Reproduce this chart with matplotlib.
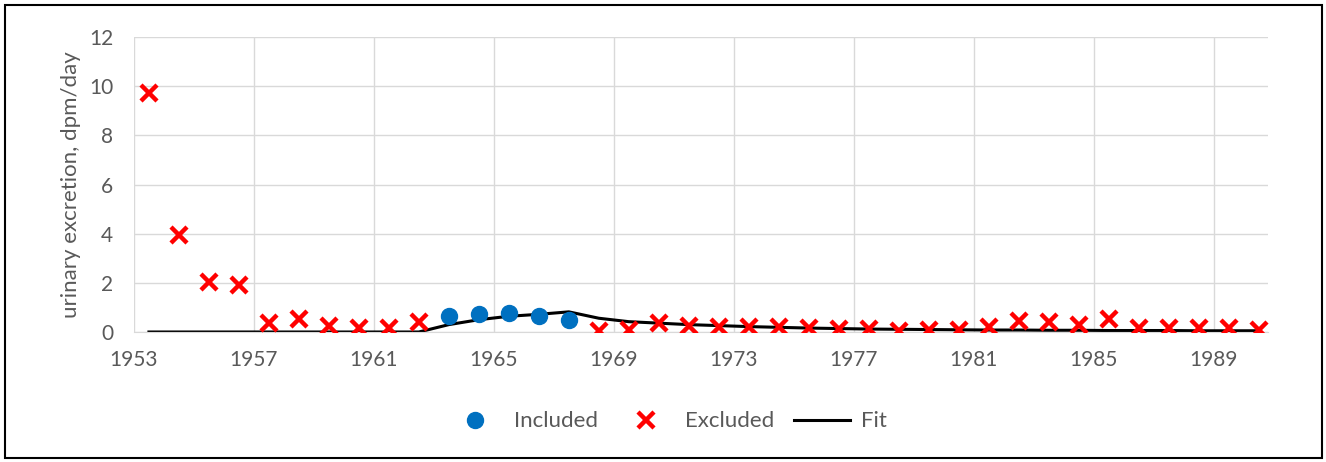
import matplotlib.pyplot as plt
from matplotlib.patches import Rectangle
import numpy as np

# yearly values, each plotted mid-year
excl_years = [1953, 1954, 1955, 1956, 1957, 1958, 1959, 1960, 1961, 1962,
              1968, 1969, 1970, 1971, 1972, 1973, 1974, 1975, 1976, 1977,
              1978, 1979, 1980, 1981, 1982, 1983, 1984, 1985, 1986, 1987,
              1988, 1989, 1990]
excl_vals = [9.75, 3.95, 2.05, 1.9, 0.35, 0.52, 0.25, 0.17, 0.17, 0.42,
             0.05, 0.1, 0.36, 0.25, 0.2, 0.2, 0.2, 0.17, 0.13, 0.12,
             0.06, 0.1, 0.1, 0.2, 0.45, 0.4, 0.3, 0.52, 0.15, 0.15,
             0.15, 0.15, 0.1]

incl_years = [1963, 1964, 1965, 1966, 1967]
incl_vals = [0.65, 0.72, 0.76, 0.64, 0.5]

fit_years = list(range(1953, 1991))
fit_vals = [0, 0, 0, 0, 0, 0, 0, 0, 0, 0,
            0.3, 0.5, 0.64, 0.72, 0.82, 0.56, 0.42, 0.36, 0.3, 0.26,
            0.22, 0.19, 0.16, 0.14, 0.12, 0.11, 0.1, 0.09, 0.08, 0.08,
            0.07, 0.07, 0.06, 0.06, 0.06, 0.05, 0.05, 0.05]

xticks = list(range(1953, 1991, 4))

plt.rcParams['font.family'] = ['Lato', 'DejaVu Sans']
grey = '#595959'

fig = plt.figure(figsize=(13.26, 4.62), dpi=100)
ax = fig.add_axes([0.101, 0.2814, 0.855, 0.638])

off = 0.5
ax.plot(np.array(fit_years) + off, fit_vals, color='black', lw=2.2, label='Fit', zorder=2)
ax.plot(np.array(incl_years) + off, incl_vals, 'o', color='#0070C0', ms=11.5,
        label='Included', zorder=3)
ax.plot(np.array(excl_years) + off, excl_vals, 'x', color='#FF0000', ms=11,
        mew=3.2, label='Excluded', zorder=3)

ax.set_xlim(1953, 1990.8)
ax.set_ylim(0, 12)
ax.set_xticks(xticks)
ax.set_xticklabels([str(y) for y in xticks])
ax.set_yticks(range(0, 13, 2))
ax.grid(True, color='#D9D9D9', lw=1)
ax.set_axisbelow(True)
for s in ['top', 'right', 'left']:
    ax.spines[s].set_visible(False)
ax.spines['bottom'].set_color('#D9D9D9')
ax.tick_params(length=0, labelsize=15, colors=grey)
ax.tick_params(axis='x', pad=13)
ax.tick_params(axis='y', pad=15)
ax.set_ylabel('urinary excretion, dpm/day', fontsize=16, color=grey, labelpad=6)

h, l = ax.get_legend_handles_labels()
order = [1, 2, 0]
fig.legend([h[i] for i in order], [l[i] for i in order], loc='center',
           bbox_to_anchor=(0.503, 0.088), ncol=3, frameon=False,
           fontsize=16, labelcolor=grey, handlelength=2.5, columnspacing=0.9,
           handletextpad=0.5)

fig.patches.append(Rectangle((0.004, 0.008), 0.993, 0.982, transform=fig.transFigure,
                             fill=False, edgecolor='black', lw=1.5))

fig.savefig('out.png', dpi=100)
